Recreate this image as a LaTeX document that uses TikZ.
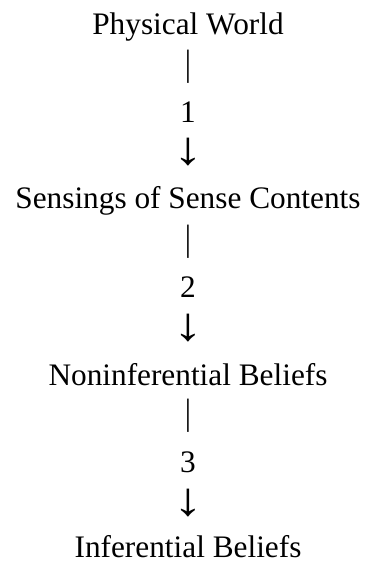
\documentclass[tikz,border=0pt]{standalone}
\usepackage{fontspec}
\setmainfont{Liberation Serif}
\begin{document}
\begin{tikzpicture}[x=1pt,y=1pt,
  lbl/.style={anchor=base,inner sep=0pt,font=\fontsize{31.3}{37}\selectfont},
  sym/.style={anchor=center,inner sep=0pt,font=\fontsize{31.3}{37}\selectfont}]
\useasboundingbox (0,0) rectangle (366,561);
\def\cx{188}
\newcommand\vbar{\scalebox{1}[1.17]{|}}
\newcommand\darr{\scalebox{1.9}[1.5]{↓}}
\node[lbl] (pw) at (\cx,{561-35})    {Physical World};
\node[sym] (b1) at (\cx,{561-66.5})  {\vbar};
\node[lbl] (n1) at (\cx,{561-123})   {1};
\node[sym] (a1) at (\cx,{561-152.5}) {\darr};
\node[lbl] (ss) at (\cx,{561-208.5}) {Sensings of Sense Contents};
\node[sym] (b2) at (\cx,{561-241.5}) {\vbar};
\node[lbl] (n2) at (\cx,{561-297.5}) {2};
\node[sym] (a2) at (\cx,{561-328.5}) {\darr};
\node[lbl] (nb) at (\cx,{561-386})   {Noninferential Beliefs};
\node[sym] (b3) at (\cx,{561-415.5}) {\vbar};
\node[lbl] (n3) at (\cx,{561-472.5}) {3};
\node[sym] (a3) at (\cx,{561-503.5}) {\darr};
\node[lbl] (ib) at (\cx,{561-558})   {Inferential Beliefs};
\end{tikzpicture}
\end{document}
